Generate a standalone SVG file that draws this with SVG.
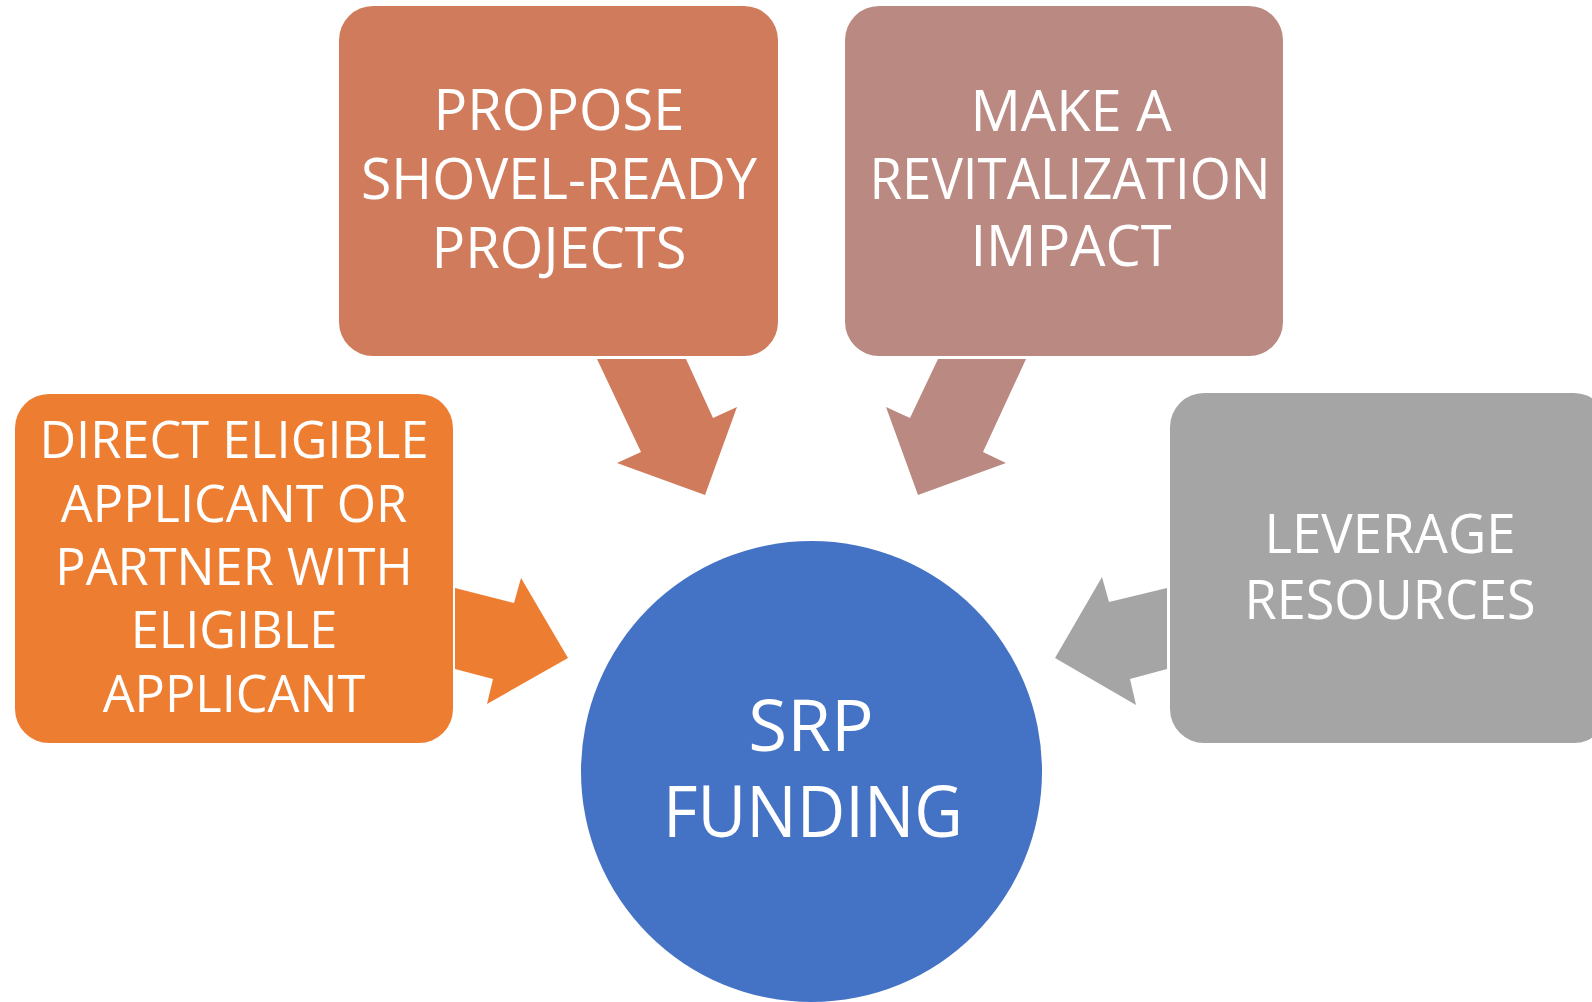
<svg xmlns="http://www.w3.org/2000/svg" width="1592" height="1002" viewBox="0 0 1592 1002">
<style>
.t{font-family:"Open Sans","Liberation Sans",sans-serif;fill:#FFFFFF;text-anchor:middle}
</style>
<rect width="1592" height="1002" fill="#FFFFFF"/>
<g id="connectors">
<polygon points="455,588 514,603 521,578 568,658 487,704 493,679 455,669" fill="#ED7D31"/>
<polygon points="1167,588 1109,602 1102,577 1055,658 1136,705 1130,679 1167,669" fill="#A5A5A5"/>
<polygon points="597,359 686,359 713,418 737,407 705,495 617,463 641,452" fill="#D07B5C"/>
<polygon points="1026,359 938,359 910,418 886,407 918,495 1006,463 983,452" fill="#B98982"/>
</g>
<g id="node-propose">
<rect x="339" y="6" width="439" height="350" rx="34" fill="#D07B5C"/>
<text class="t" font-size="56" x="559" y="130">PROPOSE</text>
<text class="t" font-size="56" x="559" y="199" textLength="396" lengthAdjust="spacingAndGlyphs">SHOVEL-READY</text>
<text class="t" font-size="56" x="559" y="268">PROJECTS</text>
</g>
<g id="node-impact">
<rect x="845" y="6" width="438" height="350" rx="34" fill="#B98982"/>
<text class="t" font-size="56" x="1071" y="131">MAKE A</text>
<text class="t" font-size="56" x="1070" y="199" textLength="401" lengthAdjust="spacingAndGlyphs">REVITALIZATION</text>
<text class="t" font-size="56" x="1071" y="266">IMPACT</text>
</g>
<g id="node-applicant">
<rect x="15" y="394" width="438" height="349" rx="34" fill="#ED7D31"/>
<text class="t" font-size="50.5" x="234" y="458">DIRECT ELIGIBLE</text>
<text class="t" font-size="50.5" x="234" y="522">APPLICANT OR</text>
<text class="t" font-size="50.5" x="234" y="585">PARTNER WITH</text>
<text class="t" font-size="50.5" x="234" y="648">ELIGIBLE</text>
<text class="t" font-size="50.5" x="234" y="712">APPLICANT</text>
</g>
<g id="node-leverage">
<rect x="1170" y="393" width="438" height="350" rx="34" fill="#A5A5A5"/>
<text class="t" font-size="55" x="1390" y="553" textLength="251" lengthAdjust="spacingAndGlyphs">LEVERAGE</text>
<text class="t" font-size="55" x="1390" y="619" textLength="291" lengthAdjust="spacingAndGlyphs">RESOURCES</text>
</g>
<g id="node-srp">
<circle cx="811.5" cy="771.5" r="230.5" fill="#4472C4"/>
<text class="t" font-size="71" x="811" y="751">SRP</text>
<text class="t" font-size="71" x="813" y="837" textLength="300" lengthAdjust="spacingAndGlyphs">FUNDING</text>
</g>
</svg>
